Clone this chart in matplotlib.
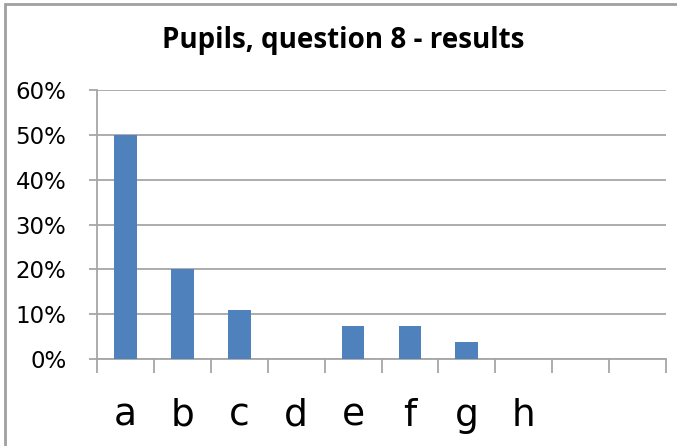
import matplotlib
matplotlib.use("Agg")
import matplotlib.pyplot as plt
from matplotlib.patches import Rectangle
from matplotlib.ticker import PercentFormatter, FixedLocator

categories = ['a', 'b', 'c', 'd', 'e', 'f', 'g', 'h', '', '']
values = [0.50, 0.20, 0.11, 0.0, 0.074, 0.074, 0.039, 0.0, 0.0, 0.0]
yticks = [0.0, 0.1, 0.2, 0.3, 0.4, 0.5, 0.6]
title = "Pupils, question 8 - results"

BAR = '#4F81BD'
GRID = '#A6A6A6'

fig = plt.figure(figsize=(6.77, 4.46), dpi=100)
ax = fig.add_axes([97/677, 1 - 359/446, (666 - 97)/677, (359 - 90)/446])

x = list(range(len(categories)))
ax.bar(x, values, width=0.4, color=BAR, zorder=3)

ax.set_xlim(-0.5, len(categories) - 0.5)
ax.set_ylim(0, 0.6)
ax.set_yticks(yticks)
ax.yaxis.set_major_formatter(PercentFormatter(1.0, decimals=0))
ax.grid(axis='y', color=GRID, linewidth=1.3, zorder=0)
ax.set_axisbelow(True)

for s in ['top', 'right']:
    ax.spines[s].set_visible(False)
for s in ['left', 'bottom']:
    ax.spines[s].set_color(GRID)
    ax.spines[s].set_linewidth(1.3)

ax.tick_params(axis='y', direction='out', length=6, width=1.3, color=GRID,
               pad=16, labelsize=16.5, labelcolor='black')
for lab in ax.get_yticklabels():
    lab.set_family(['DejaVu Sans'])

ax.set_xticks(x)
ax.set_xticklabels(categories)
ax.tick_params(axis='x', which='major', length=0, pad=28, labelsize=27)
for lab in ax.get_xticklabels():
    lab.set_family(['Liberation Sans Narrow', 'DejaVu Sans'])
ax.xaxis.set_minor_locator(FixedLocator([i - 0.5 for i in range(len(categories) + 1)]))
ax.tick_params(axis='x', which='minor', direction='out', length=10, width=1.3, color=GRID)

fig.text(343/677, 1 - 48/446, title, ha='center', va='baseline',
         fontsize=20, fontweight='bold', family=['Open Sans', 'DejaVu Sans'])

fig.patches.append(Rectangle((5/677, -0.1), 1.2, 1 - 4/446 + 0.1,
                             transform=fig.transFigure, fill=False,
                             edgecolor='#A0A0A0', linewidth=2))

fig.savefig('out.png', dpi=100, facecolor='white')
